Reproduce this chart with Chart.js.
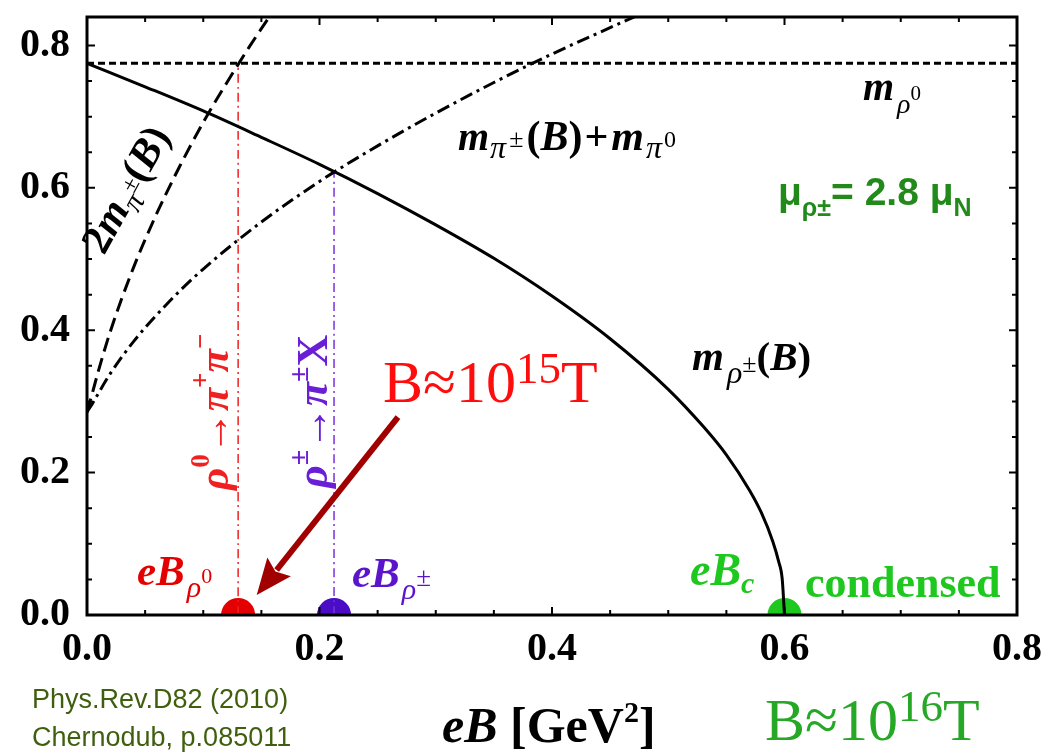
<!DOCTYPE html>
<html lang="en">
<head>
<meta charset="UTF-8">
<title>rho meson mass in magnetic field</title>
<style>
    body { margin: 0; background: #fff; }
    #wrap { width: 1050px; height: 754px; }
</style>
</head>
<body>
<div id="wrap"><canvas id="chart" width="1050" height="754"></canvas></div>

<script src="https://cdn.jsdelivr.net/npm/chart.js"></script>
<script>
    // axis ticks
    const xTicks = [0, 0.2, 0.4, 0.6, 0.8];
    const yTicks = [0, 0.2, 0.4, 0.6, 0.8];

    // neutral rho mass (horizontal dotted line)
    const rho0X = [0, 0.8];
    const rho0Y = [0.775, 0.775];

    // charged rho mass m_rho±(B), solid
    const rhoPmX = [0, 0.05, 0.1, 0.15, 0.2, 0.25, 0.3, 0.35, 0.4, 0.45, 0.5, 0.53, 0.55, 0.57, 0.58, 0.59, 0.595, 0.598, 0.6];
    const rhoPmY = [0.775, 0.742, 0.708, 0.671, 0.633, 0.592, 0.548, 0.501, 0.448, 0.388, 0.317, 0.265, 0.225, 0.175, 0.144, 0.103, 0.075, 0.051, 0];

    // 2 m_pi±(B), dashed
    const twoPiX = [0, 0.005, 0.01, 0.02, 0.04, 0.06, 0.08, 0.1, 0.12, 0.14, 0.16];
    const twoPiY = [0.285, 0.314, 0.344, 0.398, 0.488, 0.564, 0.631, 0.692, 0.747, 0.799, 0.848];

    // m_pi±(B) + m_pi0, dash-dot
    const piSumX = [0, 0.005, 0.01, 0.02, 0.04, 0.07, 0.1, 0.15, 0.2, 0.25, 0.3, 0.35, 0.4, 0.45, 0.5];
    const piSumY = [0.285, 0.298, 0.312, 0.339, 0.384, 0.439, 0.486, 0.552, 0.609, 0.659, 0.705, 0.748, 0.788, 0.825, 0.861];

    // decay thresholds (vertical lines) and critical field markers
    const decay0X = [0.13, 0.13];
    const decay0Y = [0, 0.775];
    const decayPmX = [0.2125, 0.2125];
    const decayPmY = [0, 0.622];
    const markerX = [0.13, 0.2125, 0.6];
    const markerY = [0, 0, 0];
    const markerColors = ['#e40000', '#4a0cc4', '#1ec81e'];

    // arrow from the B≈10^15T label to eB_rho0
    const arrowTail = [0.2675, 0.278];
    const arrowTip = [0.146, 0.028];

    const SERIF = '"Liberation Serif", "Times New Roman", serif';
    const SANS = '"Liberation Sans", Arial, sans-serif';

    const pts = (xs, ys) => xs.map((x, i) => ({ x: x, y: ys[i] }));

    function lineSet(xs, ys, color, width, dash) {
        return {
            data: pts(xs, ys),
            showLine: true,
            borderColor: color,
            borderWidth: width,
            borderDash: dash,
            pointRadius: 0,
            cubicInterpolationMode: 'monotone',
            fill: false
        };
    }

    // draws a run of text pieces one after another (sub/superscripts)
    function drawRich(ctx, x, y, parts, color, angle) {
        ctx.save();
        ctx.translate(x, y);
        if (angle) ctx.rotate(angle * Math.PI / 180);
        ctx.fillStyle = color;
        ctx.textAlign = 'left';
        ctx.textBaseline = 'alphabetic';
        let cx = 0;
        parts.forEach(p => {
            ctx.font = p.f;
            cx += p.dx || 0;
            ctx.fillText(p.t, cx, p.dy || 0);
            cx += ctx.measureText(p.t).width;
        });
        ctx.restore();
    }

    const bi = s => `italic bold ${s}px ${SERIF}`;
    const b = s => `bold ${s}px ${SERIF}`;
    const it = s => `italic ${s}px ${SERIF}`;
    const rg = s => `${s}px ${SERIF}`;

    const framePlugin = {
        id: 'frame',
        afterDatasetsDraw(chart) {
            const ctx = chart.ctx;
            const a = chart.chartArea;
            const xs = chart.scales.x, ys = chart.scales.y;
            ctx.save();
            ctx.strokeStyle = '#000';
            ctx.lineWidth = 3;
            ctx.strokeRect(a.left, a.top, a.right - a.left, a.bottom - a.top);
            ctx.lineWidth = 2;
            // inward ticks on all four sides, every 0.05
            for (let i = 1; i < 16; i++) {
                const v = i * 0.05;
                const len = i % 4 === 0 ? 8 : 5;
                const px = xs.getPixelForValue(v);
                ctx.beginPath();
                ctx.moveTo(px, a.bottom); ctx.lineTo(px, a.bottom - len);
                ctx.moveTo(px, a.top); ctx.lineTo(px, a.top + len);
                ctx.stroke();
            }
            for (let i = 1; i < 17; i++) {
                const v = i * 0.05;
                const len = i % 4 === 0 ? 8 : 5;
                const py = ys.getPixelForValue(v);
                ctx.beginPath();
                ctx.moveTo(a.left, py); ctx.lineTo(a.left + len, py);
                ctx.moveTo(a.right, py); ctx.lineTo(a.right - len, py);
                ctx.stroke();
            }

            // arrow
            const tx = xs.getPixelForValue(arrowTail[0]), ty = ys.getPixelForValue(arrowTail[1]);
            const hx = xs.getPixelForValue(arrowTip[0]), hy = ys.getPixelForValue(arrowTip[1]);
            const ang = Math.atan2(hy - ty, hx - tx);
            const headLen = 36, headHalf = 15;
            const bx = hx - headLen * Math.cos(ang), by = hy - headLen * Math.sin(ang);
            ctx.strokeStyle = '#a00000';
            ctx.fillStyle = '#a00000';
            ctx.lineWidth = 6;
            ctx.beginPath();
            ctx.moveTo(tx, ty); ctx.lineTo(bx + 4 * Math.cos(ang), by + 4 * Math.sin(ang));
            ctx.stroke();
            ctx.beginPath();
            ctx.moveTo(hx, hy);
            ctx.lineTo(bx - headHalf * Math.sin(ang), by + headHalf * Math.cos(ang));
            ctx.lineTo(bx + 6 * Math.cos(ang), by + 6 * Math.sin(ang));
            ctx.lineTo(bx + headHalf * Math.sin(ang), by - headHalf * Math.cos(ang));
            ctx.closePath();
            ctx.fill();
            ctx.restore();

            // curve labels
            drawRich(ctx, 863, 100, [
                { t: 'm', f: bi(40) }, { t: 'ρ', f: it(28), dy: 13, dx: 3 }, { t: '0', f: rg(21), dy: 0 }
            ], '#000');
            drawRich(ctx, 458, 150, [
                { t: 'm', f: bi(40) }, { t: 'π', f: it(32), dy: 8, dx: 1 }, { t: '±', f: rg(26), dy: -3, dx: 3 },
                { t: '(', f: b(42), dx: 3 }, { t: 'B', f: bi(42) }, { t: ')', f: b(42) }, { t: '+', f: b(42), dx: 2 },
                { t: 'm', f: bi(42), dx: 3 }, { t: 'π', f: it(32), dy: 8, dx: 2 }, { t: '0', f: rg(24), dy: -3, dx: 2 }
            ], '#000');
            drawRich(ctx, 104, 256, [
                { t: '2', f: b(42) }, { t: 'm', f: bi(42) }, { t: 'π', f: it(30), dy: 9 }, { t: '±', f: rg(24), dy: -4 },
                { t: '(', f: b(42) }, { t: 'B', f: bi(42) }, { t: ')', f: b(42) }
            ], '#000', -61);
            drawRich(ctx, 692, 370, [
                { t: 'm', f: bi(41) }, { t: 'ρ', f: it(32), dy: 13, dx: 3 }, { t: '±', f: rg(26), dy: 2 },
                { t: '(', f: b(41) }, { t: 'B', f: bi(41) }, { t: ')', f: b(41) }
            ], '#000');
            drawRich(ctx, 778, 205, [
                { t: 'μ', f: `bold 39px ${SANS}` }, { t: 'ρ±', f: `bold 25px ${SANS}`, dy: 11 },
                { t: '= 2.8 μ', f: `bold 39px ${SANS}` }, { t: 'N', f: `bold 25px ${SANS}`, dy: 11 }
            ], '#228a1a');

            // decay labels (vertical)
            drawRich(ctx, 228, 490, [
                { t: 'ρ', f: bi(43) }, { t: '0', f: b(27), dy: -19 }, { t: '→', f: b(43) },
                { t: 'π', f: bi(43) }, { t: '+', f: b(27), dy: -19 }, { t: 'π', f: bi(43) }, { t: '−', f: b(27), dy: -19 }
            ], '#f02020', -90);
            drawRich(ctx, 327, 488, [
                { t: 'ρ', f: bi(44) }, { t: '±', f: b(28), dy: -19 }, { t: '→', f: b(44) },
                { t: 'π', f: bi(44) }, { t: '±', f: b(28), dy: -19 }, { t: 'X', f: b(44) }
            ], '#6a1fd6', -90);

            // field strengths
            drawRich(ctx, 383, 402, [
                { t: 'B≈10', f: rg(60) }, { t: '15', f: rg(45), dy: -19 }, { t: 'T', f: rg(60) }
            ], '#ff0d0d');
            drawRich(ctx, 765, 740, [
                { t: 'B≈10', f: rg(60) }, { t: '16', f: rg(45), dy: -19 }, { t: 'T', f: rg(60) }
            ], '#26a826');

            // marker labels
            drawRich(ctx, 137, 585, [
                { t: 'eB', f: bi(43) }, { t: 'ρ', f: it(30), dy: 12, dx: 2 }, { t: '0', f: rg(22), dy: -2 }
            ], '#e40000');
            drawRich(ctx, 352, 587, [
                { t: 'eB', f: bi(43) }, { t: 'ρ', f: it(30), dy: 12, dx: 2 }, { t: '±', f: rg(27), dy: -1 }
            ], '#5a14cc');
            drawRich(ctx, 690, 585, [
                { t: 'eB', f: bi(46) }, { t: 'c', f: bi(30), dy: 8 }
            ], '#1ec81e');
            drawRich(ctx, 805, 597, [{ t: 'condensed', f: b(44) }], '#1ec81e');

            // x axis title
            drawRich(ctx, 442, 742, [
                { t: 'eB', f: bi(50) }, { t: ' [GeV', f: b(50) }, { t: '2', f: b(30), dy: -20 }, { t: ']', f: b(50) }
            ], '#000');

            // reference
            drawRich(ctx, 32, 708, [{ t: 'Phys.Rev.D82 (2010)', f: `27px ${SANS}` }], '#3f5f0f');
            drawRich(ctx, 32, 746, [{ t: 'Chernodub, p.085011', f: `27px ${SANS}` }], '#3f5f0f');
        }
    };

    new Chart(document.getElementById('chart'), {
        type: 'scatter',
        data: {
            datasets: [
                lineSet(rho0X, rho0Y, '#000', 3, [7, 4]),
                lineSet(rhoPmX, rhoPmY, '#000', 3, []),
                lineSet(twoPiX, twoPiY, '#000', 3, [14, 7]),
                lineSet(piSumX, piSumY, '#000', 3, [13, 5, 3, 5]),
                lineSet(decay0X, decay0Y, '#f02020', 1.5, [9, 4, 2, 4]),
                lineSet(decayPmX, decayPmY, '#7a30e0', 1.5, [9, 4, 2, 4]),
                {
                    data: pts(markerX, markerY),
                    showLine: false,
                    pointRadius: 17,
                    pointBackgroundColor: markerColors,
                    pointBorderWidth: 0,
                    clip: 0
                }
            ]
        },
        options: {
            responsive: false,
            animation: false,
            devicePixelRatio: 1,
            layout: { padding: { top: 12, right: 33, left: 0, bottom: 0 } },
            plugins: { legend: { display: false }, tooltip: { enabled: false } },
            scales: {
                x: {
                    type: 'linear',
                    min: 0,
                    max: 0.8,
                    afterBuildTicks: s => { s.ticks = xTicks.map(v => ({ value: v })); },
                    afterFit: s => { s.height = 139; s.paddingLeft = 0; s.paddingRight = 0; },
                    grid: { display: false, drawTicks: false },
                    border: { display: false },
                    ticks: {
                        color: '#000',
                        padding: 11,
                        maxRotation: 0,
                        autoSkip: false,
                        font: { family: SERIF, size: 40, weight: 'bold' },
                        callback: v => Number(v).toFixed(1)
                    }
                },
                y: {
                    type: 'linear',
                    min: 0,
                    max: 0.84,
                    afterBuildTicks: s => { s.ticks = yTicks.map(v => ({ value: v })); },
                    afterFit: s => { s.width = 87; s.paddingTop = 0; s.paddingBottom = 0; },
                    grid: { display: false, drawTicks: false },
                    border: { display: false },
                    ticks: {
                        color: '#000',
                        padding: 17,
                        autoSkip: false,
                        font: { family: SERIF, size: 40, weight: 'bold' },
                        callback: v => Number(v).toFixed(1)
                    }
                }
            }
        },
        plugins: [framePlugin]
    });
</script>
</body>
</html>
